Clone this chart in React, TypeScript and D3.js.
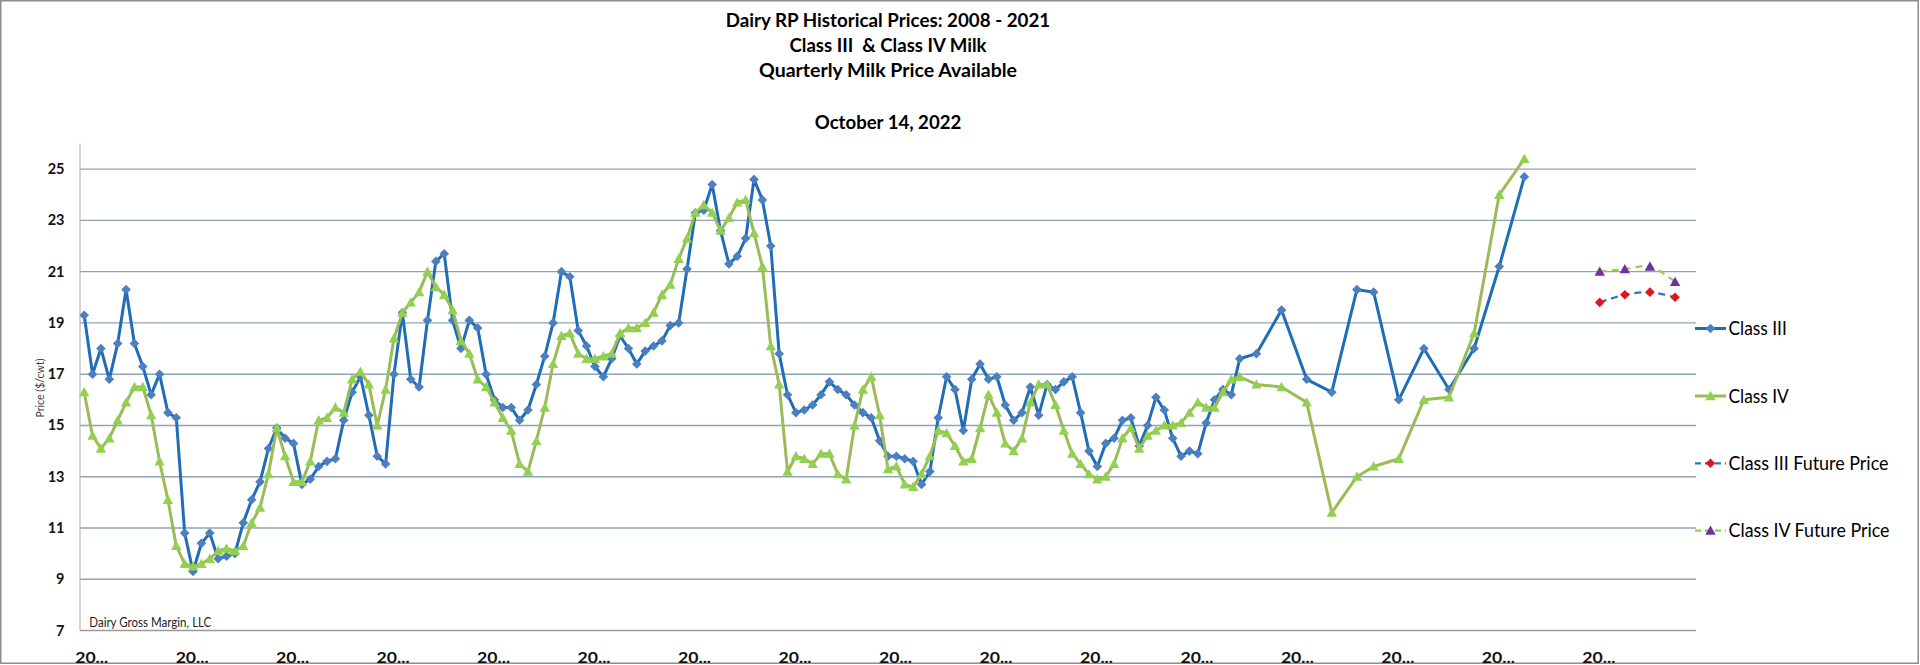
import React, { useEffect, useRef } from 'react';
import * as d3 from 'd3';

// monthly prices, first month of the chart = index 0
const classIIIMonthly = [
  19.3, 17.0, 18.0, 16.8, 18.2, 20.3, 18.2, 17.3, 16.2, 17.0,
  15.5, 15.3, 10.8, 9.3, 10.4, 10.8, 9.8, 9.9, 10.0, 11.2,
  12.1, 12.8, 14.1, 14.9, 14.5, 14.3, 12.7, 12.9, 13.4, 13.6,
  13.7, 15.2, 16.3, 16.9, 15.4, 13.8, 13.5, 17.0, 19.4, 16.8,
  16.5, 19.1, 21.4, 21.7, 19.1, 18.0, 19.1, 18.8, 17.0, 16.0,
  15.7, 15.7, 15.2, 15.6, 16.6, 17.7, 19.0, 21.0, 20.8, 18.7,
  18.1, 17.3, 16.9, 17.6, 18.5, 18.0, 17.4, 17.9, 18.1, 18.3,
  18.9, 19.0, 21.1, 23.3, 23.4, 24.4, 22.6, 21.3, 21.6, 22.3,
  24.6, 23.8, 22.0, 17.8, 16.2, 15.5, 15.6, 15.8, 16.2, 16.7,
  16.4, 16.2, 15.8, 15.5, 15.3, 14.4, 13.8, 13.8, 13.7, 13.6,
  12.7, 13.2, 15.3, 16.9, 16.4, 14.8, 16.8, 17.4, 16.8, 16.9,
  15.8, 15.2, 15.5, 16.5, 15.4, 16.6, 16.4, 16.7, 16.9, 15.5,
  14.0, 13.4, 14.3, 14.5, 15.2, 15.3, 14.2, 15.0, 16.1, 15.6,
  14.5, 13.8, 14.0, 13.9, 15.1, 16.0, 16.4, 16.2, 17.6,
];

const classIVMonthly = [
  16.3, 14.6, 14.1, 14.5, 15.2, 15.9, 16.5, 16.5, 15.4, 13.6,
  12.1, 10.3, 9.6, 9.5, 9.6, 9.8, 10.1, 10.2, 10.1, 10.3,
  11.2, 11.8, 13.1, 14.9, 13.8, 12.8, 12.8, 13.6, 15.2, 15.3,
  15.7, 15.5, 16.8, 17.1, 16.6, 15.0, 16.4, 18.4, 19.4, 19.8,
  20.2, 21.0, 20.4, 20.1, 19.5, 18.3, 17.8, 16.8, 16.5, 15.9,
  15.3, 14.8, 13.5, 13.2, 14.4, 15.7, 17.4, 18.5, 18.6, 17.8,
  17.6, 17.6, 17.7, 17.8, 18.6, 18.8, 18.8, 19.0, 19.4, 20.1,
  20.5, 21.5, 22.3, 23.3, 23.6, 23.3, 22.6, 23.1, 23.7, 23.8,
  22.5, 21.2, 18.1, 16.6, 13.2, 13.8, 13.7, 13.5, 13.9, 13.9,
  13.1, 12.9, 15.0, 16.4, 16.9, 15.4, 13.3, 13.4, 12.7, 12.6,
  13.1, 13.8, 14.8, 14.7, 14.2, 13.6, 13.7, 14.9, 16.2, 15.5,
  14.3, 14.0, 14.5, 15.9, 16.6, 16.6, 15.8, 14.8, 13.9, 13.5,
  13.1, 12.9, 13.0, 13.5, 14.5, 14.9, 14.1, 14.6, 14.8, 15.0,
  15.0, 15.1, 15.5, 15.9, 15.7, 15.7, 16.3, 16.8, 16.9,
];

// after that only quarterly prices are available
const laterMonths = [140, 143, 146, 149, 152, 154, 157, 160, 163, 166, 169, 172];
const classIIILater = [17.8, 19.5, 16.8, 16.3, 20.3, 20.2, 16.0, 18.0, 16.4, 18.0, 21.2, 24.7];
const classIVLater = [16.6, 16.5, 15.9, 11.6, 13.0, 13.4, 13.7, 16.0, 16.1, 18.6, 24.0, 25.4];

const futureMonths = [181, 184, 187, 190];
const classIIIFuture = [19.8, 20.1, 20.2, 20.0];
const classIVFuture = [21.0, 21.1, 21.2, 20.6];

const yTicks = [7, 9, 11, 13, 15, 17, 19, 21, 23, 25];
const xTickMonths = d3.range(0, 192, 12);
const xTickLabel = '20...';

const titleLines = [
  'Dairy RP Historical Prices: 2008 - 2021',
  'Class III  & Class IV Milk',
  'Quarterly Milk Price Available',
  '',
  'October 14, 2022',
];
const legendNames = ['Class III', 'Class IV', 'Class III Future Price', 'Class IV Future Price'];

type Pt = { m: number; v: number };

const FONT = "Lato, 'Open Sans', sans-serif";

const diamond = (r: number) => `M0,${-r}L${r},0L0,${r}L${-r},0Z`;
const triangle = (r: number) => `M0,${-r}L${r},${r * 0.8}L${-r},${r * 0.8}Z`;

export default function App() {
  const svgRef = useRef<SVGSVGElement>(null);

  useEffect(() => {
    document.body.style.margin = '0';
    if (!svgRef.current) return;
    const svg = d3.select(svgRef.current);
    svg.selectAll('*').remove();

    const plot = { left: 80, right: 1696, top: 143.5, bottom: 630.5 };

    const x = d3.scaleLinear().domain([-0.5, 192.5]).range([plot.left, plot.right]);
    const y = d3.scaleLinear().domain([7, 26]).range([plot.bottom, plot.top]);

    const classIII: Pt[] = classIIIMonthly.map((v, m) => ({ m, v }))
      .concat(laterMonths.map((m, i) => ({ m, v: classIIILater[i] })));
    const classIV: Pt[] = classIVMonthly.map((v, m) => ({ m, v }))
      .concat(laterMonths.map((m, i) => ({ m, v: classIVLater[i] })));
    const futIII: Pt[] = futureMonths.map((m, i) => ({ m, v: classIIIFuture[i] }));
    const futIV: Pt[] = futureMonths.map((m, i) => ({ m, v: classIVFuture[i] }));

    // outer frame
    svg.append('rect')
      .attr('x', 0.75).attr('y', 0.75)
      .attr('width', 1917.5).attr('height', 662.5)
      .attr('fill', '#fff')
      .attr('stroke', '#8c8c8c')
      .attr('stroke-width', 1.5);

    // title
    const titleWidths = [324.5, 197, 258, 0, 146.5];
    const titleBase = [27.3, 52.3, 77.3, 0, 129];
    titleLines.forEach((t, i) => {
      if (!t) return;
      svg.append('text')
        .attr('x', 888).attr('y', titleBase[i])
        .attr('text-anchor', 'middle')
        .attr('font-family', FONT)
        .attr('font-weight', 700)
        .attr('font-size', 18.5)
        .attr('fill', '#000')
        .attr('textLength', titleWidths[i])
        .attr('lengthAdjust', 'spacingAndGlyphs')
        .style('white-space', 'pre')
        .text(t);
    });

    // gridlines
    svg.append('g')
      .selectAll('line')
      .data(yTicks)
      .join('line')
      .attr('x1', plot.left).attr('x2', plot.right)
      .attr('y1', d => y(d)).attr('y2', d => y(d))
      .attr('stroke', d => (d === 7 ? '#9a9a9a' : '#8ea3b4'))
      .attr('stroke-width', 1.4);

    svg.append('line')
      .attr('x1', plot.left).attr('x2', plot.left)
      .attr('y1', plot.top).attr('y2', plot.bottom)
      .attr('stroke', '#ababab')
      .attr('stroke-width', 1);

    // y tick labels
    svg.append('g')
      .selectAll('text')
      .data(yTicks)
      .join('text')
      .attr('x', 64.5)
      .attr('y', d => y(d) + 5)
      .attr('text-anchor', 'end')
      .attr('font-family', FONT)
      .attr('font-weight', 700)
      .attr('font-size', 14.5)
      .attr('fill', '#111')
      .text(d => d);

    // x tick labels
    svg.append('g')
      .selectAll('text')
      .data(xTickMonths)
      .join('text')
      .attr('x', d => x(d) + 7.5)
      .attr('y', 662.5)
      .attr('text-anchor', 'middle')
      .attr('font-family', FONT)
      .attr('font-weight', 700)
      .attr('font-size', 16)
      .attr('fill', '#111')
      .attr('textLength', 33)
      .attr('lengthAdjust', 'spacingAndGlyphs')
      .text(xTickLabel);

    // y axis title
    svg.append('text')
      .attr('transform', 'translate(44,388) rotate(-90)')
      .attr('text-anchor', 'middle')
      .attr('font-family', FONT)
      .attr('font-size', 11)
      .attr('fill', '#404040')
      .attr('textLength', 59)
      .attr('lengthAdjust', 'spacingAndGlyphs')
      .text('Price ($/cwt)');

    // source note
    svg.append('text')
      .attr('x', 89.3).attr('y', 627.3)
      .attr('font-family', FONT)
      .attr('font-size', 12.5)
      .attr('fill', '#222')
      .attr('textLength', 122)
      .attr('lengthAdjust', 'spacingAndGlyphs')
      .text('Dairy Gross Margin, LLC');

    const line = d3.line<Pt>().x(d => x(d.m)).y(d => y(d.v));
    const smooth = d3.line<Pt>().x(d => x(d.m)).y(d => y(d.v)).curve(d3.curveCatmullRom.alpha(0.5));

    const series = [
      { data: classIII, gen: line, stroke: '#1f6db6', width: 3, dash: null, marker: diamond(4.8), fill: '#4b7fc0' },
      { data: classIV, gen: line, stroke: '#9bbb59', width: 3, dash: null, marker: triangle(5.2), fill: '#92d050' },
      { data: futIII, gen: smooth, stroke: '#2e75b6', width: 2.2, dash: '7,5', marker: diamond(4.8), fill: '#e3141b' },
      { data: futIV, gen: smooth, stroke: '#92d050', width: 2.2, dash: '7,5', marker: triangle(5.2), fill: '#7030a0' },
    ];

    series.forEach(s => {
      const g = svg.append('g');
      g.append('path')
        .attr('d', s.gen(s.data))
        .attr('fill', 'none')
        .attr('stroke', s.stroke)
        .attr('stroke-width', s.width)
        .attr('stroke-linejoin', 'round')
        .attr('stroke-dasharray', s.dash);
      g.selectAll('path.mk')
        .data(s.data)
        .join('path')
        .attr('class', 'mk')
        .attr('transform', d => `translate(${x(d.m)},${y(d.v)})`)
        .attr('d', s.marker)
        .attr('fill', s.fill);
    });

    // legend
    const legendY = [328.5, 396, 463.3, 530.7];
    const legendWidths = [58.3, 60.3, 160, 161];
    series.forEach((s, i) => {
      const g = svg.append('g').attr('transform', `translate(0,${legendY[i]})`);
      g.append('line')
        .attr('x1', 1695).attr('x2', 1726)
        .attr('stroke', s.stroke)
        .attr('stroke-width', s.width)
        .attr('stroke-dasharray', s.dash ? '6,4' : null);
      g.append('path')
        .attr('transform', 'translate(1710.5,0)')
        .attr('d', s.marker)
        .attr('fill', s.fill);
      g.append('text')
        .attr('x', 1728.5).attr('y', 6.7)
        .attr('font-family', FONT)
        .attr('font-size', 18.5)
        .attr('fill', '#000')
        .attr('textLength', legendWidths[i])
        .attr('lengthAdjust', 'spacingAndGlyphs')
        .text(legendNames[i]);
    });
  }, []);

  return <svg ref={svgRef} width={1920} height={665} style={{ display: 'block' }} />;
}
